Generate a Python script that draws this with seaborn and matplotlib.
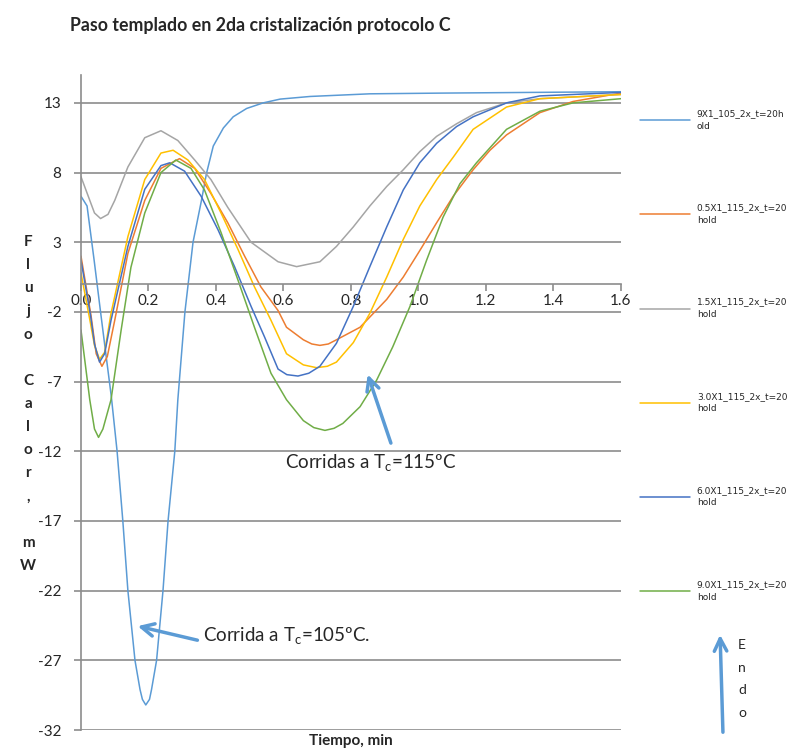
import numpy as np
import pandas as pd
import seaborn as sns
import matplotlib.pyplot as plt

# Curvas DSC (tiempo en min, flujo de calor en mW)
x_105 = [0, 0.018, 0.039, 0.058, 0.076, 0.09, 0.107, 0.124, 0.139, 0.16, 0.175, 0.182,
         0.192, 0.203, 0.209, 0.224, 0.243, 0.258, 0.278, 0.287, 0.308, 0.332, 0.357, 0.372,
         0.392, 0.422, 0.451, 0.491, 0.54, 0.59, 0.679, 0.856, 1.064, 1.6]
y_105 = [6.3, 5.6, 1.7, -2.0, -5.45, -8.1, -12, -17, -22, -27, -29.1, -29.8,
         -30.2, -29.8, -29.1, -27, -22, -17, -12, -8.3, -2, 3, 6.0, 7.95,
         9.9, 11.2, 12.0, 12.6, 13.0, 13.27, 13.46, 13.65, 13.7, 13.8]

x_05 = [0, 0.03, 0.045, 0.062, 0.078, 0.1, 0.139, 0.189, 0.237, 0.292, 0.337, 0.385, 0.435,
        0.485, 0.533, 0.584, 0.609, 0.659, 0.684, 0.708, 0.733, 0.757, 0.827, 0.906, 0.955,
        1.004, 1.054, 1.103, 1.162, 1.212, 1.261, 1.36, 1.458, 1.6]
y_05 = [2.0, -2.3, -5.0, -5.9, -5.2, -2.6, 2.2, 6.0, 8.3, 9.0, 8.3, 6.5, 4.4,
        2.0, -0.2, -1.9, -3.1, -4.0, -4.3, -4.4, -4.3, -4.0, -3.1, -1.1, 0.5,
        2.4, 4.4, 6.3, 8.2, 9.6, 10.7, 12.3, 13.1, 13.7]

x_15 = [0, 0.02, 0.04, 0.058, 0.08, 0.1, 0.139, 0.189, 0.237, 0.287, 0.337, 0.385, 0.435,
        0.504, 0.544, 0.584, 0.639, 0.708, 0.757, 0.807, 0.856, 0.906, 0.955, 1.004, 1.054,
        1.113, 1.172, 1.261, 1.36, 1.6]
y_15 = [7.7, 6.4, 5.1, 4.7, 5.0, 6.0, 8.4, 10.5, 11.0, 10.3, 8.9, 7.5, 5.5,
        3.0, 2.3, 1.6, 1.25, 1.6, 2.7, 4.1, 5.6, 7.0, 8.2, 9.5, 10.6,
        11.5, 12.3, 13.0, 13.3, 13.6]

x_30 = [0, 0.028, 0.04, 0.055, 0.07, 0.089, 0.139, 0.189, 0.237, 0.273, 0.317, 0.366, 0.415,
        0.465, 0.514, 0.563, 0.609, 0.659, 0.698, 0.73, 0.757, 0.807, 0.856, 0.906, 0.955,
        1.004, 1.054, 1.103, 1.162, 1.261, 1.36, 1.6]
y_30 = [0.8, -2.8, -4.4, -5.4, -4.9, -2.1, 3.4, 7.5, 9.4, 9.6, 8.9, 7.5, 5.1,
        2.5, -0.2, -2.6, -5.0, -5.8, -6.0, -5.9, -5.6, -4.2, -2.1, 0.5, 3.2,
        5.6, 7.5, 9.1, 11.1, 12.7, 13.3, 13.6]

x_60 = [0, 0.028, 0.04, 0.055, 0.07, 0.089, 0.139, 0.189, 0.237, 0.263, 0.307, 0.356, 0.406,
        0.455, 0.504, 0.544, 0.584, 0.61, 0.643, 0.675, 0.708, 0.757, 0.807, 0.856, 0.906,
        0.955, 1.004, 1.054, 1.113, 1.162, 1.261, 1.36, 1.6]
y_60 = [1.7, -2.2, -4.3, -5.6, -5.0, -2.6, 2.7, 6.8, 8.5, 8.7, 8.1, 6.3, 3.9,
        1.25, -1.6, -3.8, -6.1, -6.5, -6.6, -6.4, -5.9, -4.25, -1.6, 1.25, 4.1,
        6.75, 8.7, 10.1, 11.3, 12.0, 13.0, 13.5, 13.75]

x_90 = [0, 0.026, 0.04, 0.052, 0.065, 0.089, 0.119, 0.148, 0.189, 0.237, 0.281, 0.326, 0.366,
        0.415, 0.465, 0.514, 0.563, 0.609, 0.659, 0.69, 0.723, 0.75, 0.776, 0.827, 0.876,
        0.924, 0.975, 1.024, 1.073, 1.123, 1.172, 1.261, 1.36, 1.458, 1.6]
y_90 = [-3.3, -8.3, -10.4, -11.0, -10.4, -8.3, -3.3, 1.2, 5.1, 8.0, 8.9, 8.3, 6.75,
        3.7, 0.3, -3.1, -6.4, -8.3, -9.8, -10.3, -10.5, -10.35, -10.0, -8.8, -6.9,
        -4.5, -1.6, 1.7, 4.8, 7.2, 8.7, 11.1, 12.4, 13.0, 13.3]

series_names = ["9X1_105_2x_t=20h\nold", "0.5X1_115_2x_t=20\nhold", "1.5X1_115_2x_t=20\nhold",
                "3.0X1_115_2x_t=20\nhold", "6.0X1_115_2x_t=20\nhold", "9.0X1_115_2x_t=20\nhold"]
colors = ["#5B9BD5", "#ED7D31", "#A5A5A5", "#FFC000", "#4472C4", "#70AD47"]

xs = [x_105, x_05, x_15, x_30, x_60, x_90]
ys = [y_105, y_05, y_15, y_30, y_60, y_90]
df = pd.concat([pd.DataFrame({"t": x, "q": y, "serie": n}) for x, y, n in zip(xs, ys, series_names)])

sns.set_style("white")
plt.rcParams["font.family"] = ["Lato", "DejaVu Sans"]
plt.rcParams["axes.unicode_minus"] = False

fig = plt.figure(figsize=(7.94, 7.53), dpi=100)
ax = fig.add_axes([0.102, 0.0305, 0.680, 0.8699])

grid_c = "#8C8C8C"
sns.lineplot(data=df, x="t", y="q", hue="serie", palette=colors, hue_order=series_names,
             estimator=None, sort=False, linewidth=1.1, ax=ax, legend="full")

ax.set_xlim(0, 1.6)
ax.set_ylim(-32, 15)
ax.set_yticks(np.arange(-32, 14, 5))
ax.set_xticks(np.arange(0, 1.61, 0.2))
ax.set_xticklabels([f"{v:.1f}" for v in np.arange(0, 1.61, 0.2)])
ax.yaxis.grid(True, color=grid_c, linewidth=1.2)
ax.set_axisbelow(True)
for s in ["top", "right"]:
    ax.spines[s].set_visible(False)
ax.spines["left"].set_color(grid_c)
ax.spines["left"].set_linewidth(1.2)
ax.spines["bottom"].set_position(("data", 0))
ax.spines["bottom"].set_color(grid_c)
ax.spines["bottom"].set_linewidth(1.2)
ax.tick_params(axis="y", length=5, color=grid_c, width=1.2, pad=9, labelsize=11, left=True)
ax.tick_params(axis="x", length=5, color=grid_c, width=1.2, pad=2, labelsize=11, bottom=True)
ax.set_xlabel("")
ax.set_ylabel("")

leg = ax.get_legend()
handles = leg.legend_handles
labels = [t.get_text() for t in leg.get_texts()]
leg = ax.legend(handles, labels, loc="upper left", bbox_to_anchor=(0.806, 0.855),
                bbox_transform=fig.transFigure, frameon=False,
                prop={"family": "DejaVu Sans", "size": 6.5},
                labelspacing=8.05, handlelength=5.5, handletextpad=0.8,
                borderpad=0, borderaxespad=0)
for t in leg.get_texts():
    t.set_linespacing(1.5)

fig.text(0.088, 0.977, "Paso templado en 2da cristalización protocolo C",
         fontsize=12.8, fontweight="bold", ha="left", va="top")
fig.text(0.442, 0.006, "Tiempo, min", fontsize=11, fontweight="bold", ha="center", va="bottom")
fig.text(0.0353, 0.4635, "\n".join("Flujo Calor, mW"), fontsize=11, fontweight="bold",
         ha="center", va="center", linespacing=1.83)

arrow_c = "#5B9BD5"
arr = dict(arrowstyle="->, head_length=0.9, head_width=0.45", lw=2.5, color=arrow_c)
ax.annotate("", xy=(0.16, -24.5), xytext=(0.353, -25.6), arrowprops=arr)
ax.text(0.361, -25.3, "Corrida a T$_\\mathregular{c}$=105ºC.", fontsize=13.5, va="center")
ax.annotate("", xy=(0.847, -6.3), xytext=(0.921, -11.6), arrowprops=arr)
ax.text(0.604, -12.9, "Corridas a T$_\\mathregular{c}$=115ºC", fontsize=13.5, va="center")

ax.annotate("", xy=(0.9068, 0.1607), xytext=(0.9106, 0.0239), xycoords="figure fraction",
            textcoords="figure fraction", arrowprops=arr)
fig.text(0.9345, 0.0983, "E\nn\nd\no", fontsize=10, ha="center", va="center", linespacing=2.05)

fig.savefig("out.png", dpi=100)
